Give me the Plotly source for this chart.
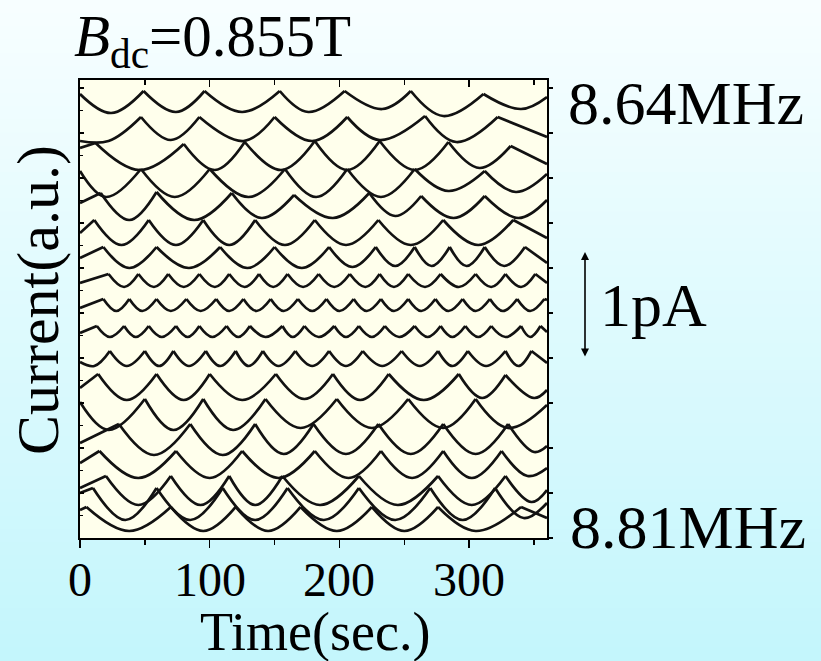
import plotly.graph_objects as go

# ---------------- data ----------------
# time axis in seconds, current in arbitrary units (stacked traces, 8.64 MHz on top)
freq_labels = ["8.64", "8.65", "8.66", "8.67", "8.68", "8.69", "8.70", "8.71", "8.72",
               "8.73", "8.74", "8.75", "8.76", "8.77", "8.78", "8.79", "8.80", "8.81"]

t_864 = [0, 24, 49, 74, 96, 125, 154, 176, 204, 233, 255, 280, 311, 340, 360]
v_864 = [444, 425, 447, 426, 447, 426, 447, 426, 447, 429, 447, 422, 444, 429, 441]

t_865 = [0, 22, 47, 70, 92, 126, 150, 179, 206, 231, 266, 290, 322, 360]
v_865 = [397, 397, 421, 398, 421, 397, 421, 397, 421, 398, 422, 396, 421, 401]

t_866 = [0, 12, 46, 80, 104, 127, 155, 181, 206, 231, 258, 284, 308, 332, 360]
v_866 = [390, 395, 368, 394, 368, 396, 368, 397, 368, 397, 368, 396, 370, 392, 374]

t_867 = [0, 20, 47, 73, 100, 130, 158, 182, 206, 232, 258, 284, 312, 336, 360]
v_867 = [367, 341, 369, 341, 369, 341, 369, 341, 369, 341, 369, 347, 367, 346, 364]

t_868 = [0, 16, 38, 59, 88, 117, 140, 165, 195, 223, 243, 263, 288, 312, 338, 360]
v_868 = [335, 345, 318, 346, 318, 345, 320, 343, 320, 345, 322, 342, 320, 342, 320, 338]

t_869 = [0, 11, 32, 53, 74, 95, 115, 135, 158, 181, 205, 230, 255, 280, 307, 334, 360]
v_869 = [305, 318, 293, 318, 293, 318, 293, 318, 293, 318, 293, 318, 293, 318, 293, 318, 300]

t_870 = [0, 18, 38, 59, 84, 108, 129, 150, 171, 192, 210, 228, 243, 258, 271, 285, 298, 312, 327, 343, 360]
v_870 = [280, 291, 270, 291, 270, 291, 270, 291, 270, 291, 271, 291, 272, 291, 272, 291, 272, 291, 272, 291, 275]

t_871 = [0, 22, 34, 45, 57, 68, 80, 92, 104, 115, 127, 138, 149, 160, 172, 184, 196, 208, 220, 231,
         242, 253, 266, 278, 292, 305, 317, 328, 340, 351, 360]
v_871 = [255, 264, 251, 264, 251, 264, 251, 264, 251, 264, 251, 264, 251, 264, 251, 264, 251, 264, 251, 264,
         251, 264, 251, 264, 251, 264, 251, 264, 251, 264, 255]

t_872 = [0, 18, 28, 38, 48, 59, 70, 82, 93, 105, 115, 126, 136, 147, 157, 168, 179, 190, 200, 211,
         221, 232, 242, 253, 263, 274, 284, 295, 305, 316, 326, 337, 347, 358, 360]
v_872 = [230, 239, 227, 239, 227, 239, 227, 239, 227, 239, 227, 239, 227, 239, 227, 239, 227, 239, 227, 239,
         227, 239, 227, 239, 227, 239, 227, 239, 227, 239, 227, 239, 227, 239, 238]

t_873 = [0, 13, 23, 34, 43, 53, 63, 74, 83, 92, 102, 113, 122, 131, 143, 156, 164, 173, 184, 196,
         205, 215, 225, 235, 246, 258, 268, 278, 287, 297, 307, 317, 328, 340, 347, 355, 360]
v_873 = [205, 212, 201, 212, 201, 212, 201, 212, 201, 212, 201, 212, 201, 212, 201, 212, 201, 212, 201, 212,
         201, 212, 201, 212, 201, 212, 201, 212, 201, 212, 201, 212, 201, 212, 201, 212, 206]

t_874 = [0, 11, 23, 36, 50, 61, 72, 84, 97, 108, 120, 130, 141, 153, 166, 179, 192, 205, 218, 233,
         248, 262, 276, 287, 299, 313, 328, 338, 348, 360]
v_874 = [176, 172, 187, 172, 187, 172, 187, 172, 187, 172, 187, 172, 187, 172, 187, 172, 187, 172, 187, 172,
         187, 172, 187, 172, 187, 172, 187, 172, 187, 175]

t_875 = [0, 14, 36, 59, 80, 100, 125, 151, 173, 195, 216, 238, 265, 292, 310, 328, 350, 360]
v_875 = [150, 164, 138, 164, 138, 164, 138, 164, 139, 164, 138, 164, 138, 164, 140, 163, 140, 148]

t_876 = [0, 22, 50, 72, 95, 118, 143, 170, 198, 225, 253, 280, 305, 330, 360]
v_876 = [136, 108, 139, 108, 139, 108, 139, 110, 139, 110, 139, 110, 139, 110, 133]

t_877 = [0, 30, 57, 85, 110, 135, 157, 180, 205, 230, 255, 280, 305, 330, 350, 360]
v_877 = [95, 114, 83, 114, 83, 114, 84, 114, 84, 114, 84, 114, 84, 114, 86, 92]

t_878 = [0, 15, 45, 74, 100, 125, 153, 181, 207, 232, 256, 280, 302, 325, 345, 360]
v_878 = [75, 87, 60, 87, 60, 87, 60, 87, 60, 87, 60, 87, 60, 87, 62, 70]

t_879 = [0, 20, 45, 70, 93, 115, 135, 156, 185, 215, 245, 276, 302, 328, 348, 360]
v_879 = [50, 62, 33, 62, 33, 62, 33, 62, 33, 62, 33, 62, 33, 62, 36, 48]

t_880 = [0, 10, 35, 59, 85, 110, 135, 160, 188, 215, 243, 270, 295, 320, 342, 360]
v_880 = [45, 50, 18, 50, 18, 50, 18, 50, 18, 50, 18, 50, 18, 50, 20, 35]

t_881 = [0, 5, 38, 70, 95, 120, 145, 170, 198, 225, 250, 276, 305, 340, 360]
v_881 = [28, 31, 7, 31, 7, 31, 7, 31, 7, 31, 7, 31, 7, 31, 20]

x_ticks = [0, 100, 200, 300]
x_tick_text = ["0", "100", "200", "300"]
x_minor_ticks = [50, 150, 250, 350]

series = [(t_864, v_864), (t_865, v_865), (t_866, v_866), (t_867, v_867), (t_868, v_868),
          (t_869, v_869), (t_870, v_870), (t_871, v_871), (t_872, v_872), (t_873, v_873),
          (t_874, v_874), (t_875, v_875), (t_876, v_876), (t_877, v_877), (t_878, v_878),
          (t_879, v_879), (t_880, v_880), (t_881, v_881)]

# ---------------- layout geometry ----------------
W, H = 821, 661
ML, MR, MT, MB = 80, 274, 80, 123
PW, PH = W - ML - MR, H - MT - MB
FONT = "Liberation Serif, Times New Roman, serif"


def px(xp):
    return (xp - ML) / PW


def py(yp):
    return (H - MB - yp) / PH


def scallops(ts, vs):
    """Split the knot list at its cusps so each arc is smoothed separately."""
    n = len(ts)
    peaks = [i for i in range(1, n - 1) if vs[i] > vs[i - 1] and vs[i] > vs[i + 1]]
    cuts = [0] + peaks + [n - 1]
    xs, ys = [], []
    for a, b in zip(cuts[:-1], cuts[1:]):
        xs += list(ts[a:b + 1]) + [None]
        ys += list(vs[a:b + 1]) + [None]
    return xs, ys


fig = go.Figure()
for (ts, vs), lab in zip(series, freq_labels):
    xs, ys = scallops(ts, vs)
    fig.add_trace(go.Scatter(x=xs, y=ys, mode="lines", name=lab + " MHz",
                             line=dict(color="#121212", width=2.7, shape="spline", smoothing=1.1),
                             connectgaps=False, showlegend=False, hoverinfo="skip"))

# dummy traces carrying the top (inside ticks) and right (outside ticks) axes
fig.add_trace(go.Scatter(x=[0, 360], y=[None, None], xaxis="x2", mode="lines",
                         showlegend=False, hoverinfo="skip"))
fig.add_trace(go.Scatter(x=[None, None], y=[0, PH], yaxis="y2", mode="lines",
                         showlegend=False, hoverinfo="skip"))

# background gradient strips + cream plot area
shapes = []
top_c = (247, 254, 255)
bot_c = (196, 246, 252)
N = 50
y_lo, y_hi = -MB / PH, (H - MB) / PH
for k in range(N):
    f = k / (N - 1)
    c = tuple(round(bot_c[j] + (top_c[j] - bot_c[j]) * f) for j in range(3))
    y0 = y_lo + (y_hi - y_lo) * k / N
    y1 = y_lo + (y_hi - y_lo) * (k + 1) / N + 0.002
    shapes.append(dict(type="rect", xref="paper", yref="paper", x0=-ML / PW, x1=(W - ML) / PW,
                       y0=y0, y1=y1, fillcolor="rgb(%d,%d,%d)" % c, line=dict(width=0), layer="below"))
shapes.append(dict(type="rect", xref="paper", yref="paper", x0=0, x1=1, y0=0, y1=1,
                   fillcolor="#ffffec", line=dict(width=0), layer="below"))

annotations = [
    dict(text="<i>B</i><sub>dc</sub>=0.855T", x=px(72), y=py(40), xref="paper", yref="paper",
         xanchor="left", yanchor="middle", showarrow=False, font=dict(family=FONT, size=59, color="black")),
    dict(text="8.64MHz", x=px(566), y=py(103), xref="paper", yref="paper",
         xanchor="left", yanchor="middle", showarrow=False, font=dict(family=FONT, size=62, color="black")),
    dict(text="8.81MHz", x=px(568), y=py(527), xref="paper", yref="paper",
         xanchor="left", yanchor="middle", showarrow=False, font=dict(family=FONT, size=62, color="black")),
    dict(text="1pA", x=px(598), y=py(305), xref="paper", yref="paper",
         xanchor="left", yanchor="middle", showarrow=False, font=dict(family=FONT, size=62, color="black")),
    dict(text="Time(sec.)", x=px(315), y=py(632), xref="paper", yref="paper",
         xanchor="center", yanchor="middle", showarrow=False, font=dict(family=FONT, size=54, color="black")),
    dict(text="Current(a.u.)", x=px(38), y=py(300), xref="paper", yref="paper", textangle=-90,
         xanchor="center", yanchor="middle", showarrow=False, font=dict(family=FONT, size=60, color="black")),
    dict(text="", x=px(585), y=py(252), xref="paper", yref="paper", ax=0, ay=106,
         axref="pixel", ayref="pixel", showarrow=True, arrowhead=2, arrowside="end+start",
         arrowsize=1, arrowwidth=1.6, arrowcolor="black"),
]
# x tick labels, placed close under the axis like the original
for tv, tt in zip(x_ticks, x_tick_text):
    annotations.append(dict(text=tt, x=tv, y=py(579), xref="x", yref="paper", xanchor="center",
                            yanchor="middle", showarrow=False,
                            font=dict(family=FONT, size=48, color="black")))

fig.update_layout(
    width=W, height=H,
    margin=dict(l=ML, r=MR, t=MT, b=MB),
    paper_bgcolor="rgba(0,0,0,0)", plot_bgcolor="rgba(0,0,0,0)",
    shapes=shapes, annotations=annotations, showlegend=False,
    xaxis=dict(range=[0, 360], tickvals=x_ticks, ticks="outside", showticklabels=False,
               ticklen=8, tickwidth=1.5, tickcolor="black",
               minor=dict(tickvals=x_minor_ticks, ticks="outside", ticklen=5, tickwidth=1.5,
                          tickcolor="black"),
               showline=True, linewidth=2.2, linecolor="black", mirror=True, showgrid=False,
               zeroline=False),
    xaxis2=dict(range=[0, 360], overlaying="x", side="top", anchor="y", tickvals=x_ticks,
                ticks="inside", ticklen=7, tickwidth=1.5, tickcolor="black", showticklabels=False,
                minor=dict(tickvals=x_minor_ticks, ticks="inside", ticklen=5, tickwidth=1.5,
                           tickcolor="black"),
                showline=True, linewidth=2.2, linecolor="black", showgrid=False, zeroline=False),
    yaxis=dict(range=[0, PH], tick0=0, dtick=45, ticks="inside", ticklen=4, tickwidth=1.2,
               tickcolor="black", showticklabels=False,
               minor=dict(dtick=22.5, ticks="inside", ticklen=3, tickwidth=1.2, tickcolor="black"),
               showline=True, linewidth=2.2, linecolor="black", mirror=True, showgrid=False,
               zeroline=False),
    yaxis2=dict(range=[0, PH], overlaying="y", side="right", anchor="x", tick0=0, dtick=45,
                ticks="outside", ticklen=4, tickwidth=1.2, tickcolor="black", showticklabels=False,
                showline=True, linewidth=2.2, linecolor="black", showgrid=False, zeroline=False),
)

fig.write_html("out.html", config={"displayModeBar": False, "staticPlot": True},
               post_script="document.body.style.margin='0px';document.body.style.background='#f7feff';")
